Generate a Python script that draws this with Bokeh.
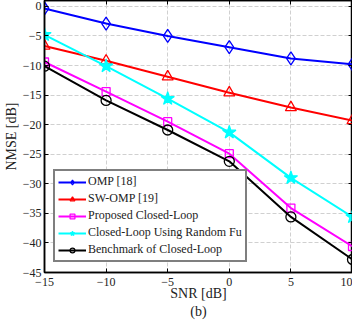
from bokeh.plotting import figure
from bokeh.models import LinearAxis, Range1d, FixedTicker, Legend, LegendItem
from bokeh.embed import file_html
from bokeh.resources import INLINE

snr = [-15, -10, -5, 0, 5, 10]
omp = [-0.35, -2.9, -5.0, -6.9, -8.8, -9.8]
sw_omp = [-6.7, -9.2, -11.9, -14.6, -17.1, -19.3]
proposed = [-9.4, -14.4, -19.5, -24.9, -34.1, -40.6]
random_fu = [-4.8, -10.1, -15.6, -21.3, -29.0, -35.6]
benchmark = [-10.1, -15.9, -20.9, -26.2, -35.6, -42.8]
labels = ["OMP [18]", "SW-OMP [19]", "Proposed Closed-Loop",
          "Closed-Loop Using Random Fu", "Benchmark of Closed-Loop"]
xticks = [-15, -10, -5, 0, 5, 10]
yticks = [0, -5, -10, -15, -20, -25, -30, -35, -40, -45]
x_label = "SNR [dB]"
y_label = "NMSE [dB]"
sub_label = "(b)"

FONT = "Liberation Serif"

p = figure(width=352, height=322, output_backend="svg", toolbar_location=None,
           x_range=Range1d(-15, 10), y_range=Range1d(-45, 1),
           min_border_left=0, min_border_right=0, min_border_top=0,
           min_border_bottom=0)
p.outline_line_color = "black"
p.outline_line_width = 1.5

right_ax = LinearAxis(ticker=FixedTicker(ticks=yticks))
top_ax = LinearAxis(ticker=FixedTicker(ticks=xticks))
p.add_layout(right_ax, "right")
p.add_layout(top_ax, "above")

bottom_ax = p.below[0]
left_ax = p.left[0]
bottom_ax.ticker = FixedTicker(ticks=xticks)
left_ax.ticker = FixedTicker(ticks=yticks)

for ax in [bottom_ax, left_ax, right_ax, top_ax]:
    ax.major_tick_in = 4
    ax.major_tick_out = 0
    ax.minor_tick_in = 0
    ax.minor_tick_out = 0
    ax.axis_line_color = "black"
    ax.axis_line_width = 1.5
    ax.major_tick_line_color = "black"
    ax.major_label_text_font = FONT
    ax.major_label_text_font_size = "12px"
    ax.major_label_text_color = "#222222"
    ax.axis_label_text_font = FONT
    ax.axis_label_text_font_style = "normal"
    ax.axis_label_text_font_size = "14px"
    ax.axis_label_text_color = "#222222"

for ax in [right_ax, top_ax]:
    ax.major_label_text_font_size = "0px"
    ax.major_label_text_alpha = 0
    ax.major_label_standoff = 0
    ax.axis_label = None

left_ax.axis_label = y_label
left_ax.axis_label_standoff = 1
left_ax.major_label_standoff = 3
bottom_ax.axis_label = x_label + "\n" + sub_label
bottom_ax.axis_label_text_line_height = 1.25
bottom_ax.axis_label_standoff = -3
bottom_ax.major_label_standoff = 5

p.xgrid.grid_line_color = "#d0d0d0"
p.ygrid.grid_line_color = "#d0d0d0"
p.xgrid.grid_line_dash = "4 2"
p.ygrid.grid_line_dash = "4 2"

series = [
    (omp, "blue", "diamond", 13, False),
    (sw_omp, "red", "triangle", 11, False),
    (proposed, "magenta", "square", 8, False),
    (random_fu, "cyan", "star", 14, True),
    (benchmark, "black", "circle", 10, False),
]
items = []
for (ys, col, mk, sz, filled), lab in zip(series, labels):
    l = p.line(snr, ys, line_color=col, line_width=2)
    if filled:
        s = p.scatter(snr, ys, marker=mk, size=sz, line_color=col,
                      line_width=1.2, fill_color=col)
    else:
        s = p.scatter(snr, ys, marker=mk, size=sz, line_color=col,
                      line_width=1.3, fill_color=None)
    items.append(LegendItem(label=lab, renderers=[l, s]))

leg = Legend(items=items, location=(9, 10))
leg.label_text_font = FONT
leg.label_text_font_size = "12px"
leg.label_text_color = "#222222"
leg.label_height = 12
leg.glyph_height = 12
leg.glyph_width = 28
leg.spacing = 2
leg.padding = 3
leg.margin = 0
leg.label_standoff = 2
leg.border_line_color = "black"
leg.border_line_width = 2
leg.background_fill_alpha = 1
p.add_layout(leg, "center")

open("out.html", "w").write(file_html(p, INLINE))
